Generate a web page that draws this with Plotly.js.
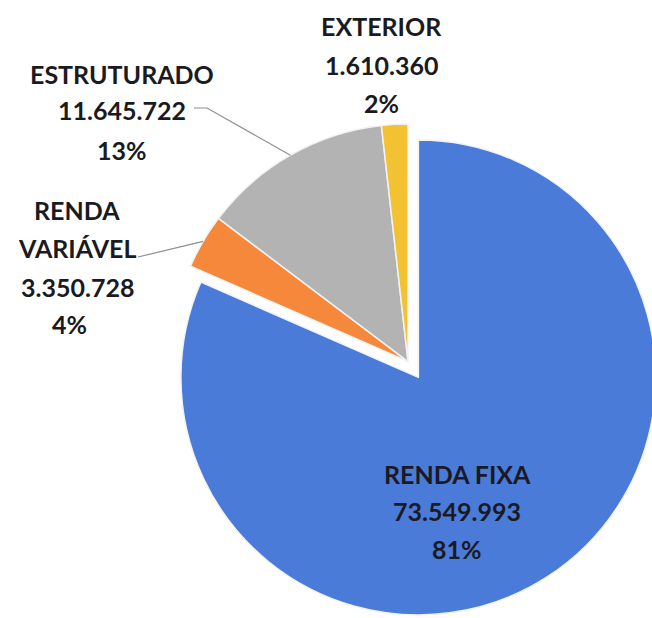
<!DOCTYPE html>
<html><head><meta charset="utf-8">
<script src="https://cdn.plot.ly/plotly-3.0.1.min.js"></script>
<style>html,body{margin:0;padding:0;overflow:hidden;background:#fff;width:652px;height:618px}#chart{width:816px;height:618px}</style>
</head><body><div id="chart"></div>
<script>
const categories = ["RENDA FIXA", "RENDA VARIÁVEL", "ESTRUTURADO", "EXTERIOR"];
const values = [73549993, 3350728, 11645722, 1610360];
const valueLabels = ["73.549.993", "3.350.728", "11.645.722", "1.610.360"];
const percentLabels = ["81%", "4%", "13%", "2%"];
const labelLines = [["RENDA FIXA"], ["RENDA", "VARIÁVEL"], ["ESTRUTURADO"], ["EXTERIOR"]];
const colors = ["#4a7bd8", "#f5883a", "#b3b3b3", "#f2c232"];
const pulls = [0.08, 0, 0, 0];

const W = 816, H = 618;
const dom = {x: [0.185, 0.815], y: [0, 0.83]};
const fnt = {family: "Lato, 'Open Sans', sans-serif", size: 25, color: "#1a1a22"};

// pie geometry (same as Plotly's)
const availW = W * (dom.x[1] - dom.x[0]), availH = H * (dom.y[1] - dom.y[0]);
const r = Math.min(availW, availH) / 2 / (1 + Math.max(...pulls));
const cx = W * (dom.x[0] + dom.x[1]) / 2;
const cy = H * (1 - dom.y[0]) - availH / 2;
const total = values.reduce((a, b) => a + b, 0);
function midPoint(i) {
  let cum = 0; for (let k = 0; k < i; k++) cum += values[k];
  const th = 2 * Math.PI * (cum + values[i] / 2) / total;
  return [cx + r * Math.sin(th), cy - r * Math.cos(th)];
}
const px = x => x / W, py = y => 1 - y / H;

// label block positions (pixel centres of each line)
const labelPos = [
  {x: 457, ys: [474, 511, 549]},
  {x: 77, ys: [210, 248, 287, 324]},
  {x: 122, ys: [74, 110, 150]},
  {x: 381, ys: [26, 65, 103]}
];
const annotations = [];
categories.forEach((c, i) => {
  const lines = labelLines[i].concat([valueLabels[i], percentLabels[i]]);
  lines.forEach((t, j) => {
    let x = labelPos[i].x;
    if (i === 1 && j === 3) x = 69;
    annotations.push({xref: "paper", yref: "paper", x: px(x), y: py(labelPos[i].ys[j]),
      xanchor: "center", yanchor: "middle", showarrow: false, text: "<b>" + t + "</b>", font: fnt});
  });
});

const e = midPoint(2), v = midPoint(1);
const shapes = [
  {type: "path", xref: "paper", yref: "paper",
   path: `M ${px(194)} ${py(108)} L ${px(207)} ${py(108)} L ${px(e[0])} ${py(e[1])}`,
   line: {color: "#8f8f8f", width: 1.2}},
  {type: "path", xref: "paper", yref: "paper",
   path: `M ${px(138)} ${py(257)} L ${px(v[0])} ${py(v[1])}`,
   line: {color: "#8f8f8f", width: 1.2}}
];

Plotly.newPlot("chart", [{
  type: "pie", labels: categories, values: values, sort: false, direction: "clockwise", rotation: 0,
  pull: pulls, marker: {colors: colors, line: {color: "#f2f2f2", width: 1.5}},
  textinfo: "none", hoverinfo: "label+value+percent", domain: dom, showlegend: false
}], {
  width: W, height: H, margin: {l: 0, r: 0, t: 0, b: 0},
  paper_bgcolor: "#ffffff", annotations: annotations, shapes: shapes, showlegend: false
}, {staticPlot: true});
</script></body></html>
